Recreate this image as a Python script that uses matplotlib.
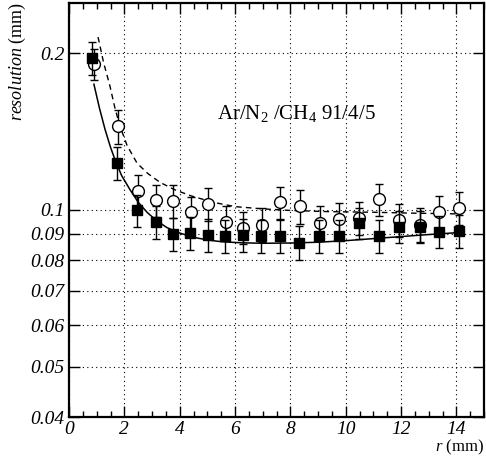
import matplotlib
matplotlib.use("Agg")
import matplotlib.pyplot as plt
from matplotlib.ticker import FixedLocator, NullLocator, MultipleLocator, FixedFormatter

plt.rcParams['font.family'] = ['Liberation Serif', 'DejaVu Serif']
plt.rcParams['mathtext.fontset'] = 'custom'
plt.rcParams['mathtext.rm'] = 'Liberation Serif'
plt.rcParams['mathtext.it'] = 'Liberation Serif:italic'

# data: squares (filled)
sq_r = [0.83, 1.73, 2.46, 3.14, 3.76, 4.37, 5.02, 5.64, 6.29, 6.94, 7.62, 8.30, 9.03, 9.76,
        10.48, 11.20, 11.93, 12.68, 13.37, 14.10]
sq_res = [0.196, 0.123, 0.0998, 0.095, 0.090, 0.0904, 0.0897, 0.0892, 0.0896, 0.089, 0.089, 0.0865,
          0.0893, 0.0893, 0.0946, 0.0893, 0.0929, 0.0929, 0.0909, 0.0912]
sq_err = [0.014, 0.009, 0.007, 0.007, 0.0065, 0.0065, 0.0065, 0.0065, 0.0065, 0.0065, 0.0065,
          0.0065, 0.0065, 0.0065, 0.0065, 0.0065, 0.0065, 0.0065, 0.0065, 0.0065]

# data: circles (open)
ci_r = [0.90, 1.77, 2.49, 3.14, 3.76, 4.41, 5.02, 5.67, 6.29, 6.97, 7.62, 8.35, 9.07, 9.76,
        10.48, 11.20, 11.93, 12.68, 13.37, 14.10]
ci_res = [0.191, 0.145, 0.109, 0.1044, 0.104, 0.0989, 0.1029, 0.095, 0.0925, 0.0937, 0.1034, 0.1016,
          0.0946, 0.0963, 0.0967, 0.1048, 0.0958, 0.0937, 0.0993, 0.101]
ci_err = [0.013, 0.011, 0.008, 0.0075, 0.0075, 0.007, 0.0075, 0.007, 0.0065, 0.007, 0.0075, 0.0075,
          0.007, 0.007, 0.007, 0.0075, 0.007, 0.007, 0.007, 0.0075]

# fit curves
fit_sq_r = [0.90, 1.10, 1.30, 1.50, 1.66, 1.90, 2.20, 2.50, 2.82, 3.15, 3.54, 4.0, 4.5, 5.0, 5.5,
            6.2, 7.0, 8.0, 9.0, 10.0, 11.0, 12.0, 13.0, 14.1]
fit_sq_res = [0.1745, 0.157, 0.143, 0.132, 0.125, 0.1165, 0.1095, 0.1035, 0.099, 0.0955, 0.0925,
              0.0903, 0.0886, 0.0876, 0.0869, 0.0865, 0.0863, 0.0864, 0.0867, 0.0873, 0.0881,
              0.0889, 0.0897, 0.0905]
fit_ci_r = [1.05, 1.25, 1.48, 1.66, 1.84, 2.10, 2.46, 2.85, 3.29, 3.80, 4.40, 5.2, 6.0, 7.0, 8.0,
            9.3, 11.0, 12.5, 14.0]
fit_ci_res = [0.215, 0.192, 0.173, 0.157, 0.145, 0.133, 0.123, 0.1175, 0.113, 0.1095, 0.1065,
              0.1035, 0.1015, 0.1005, 0.0998, 0.0993, 0.099, 0.0986, 0.0983]

ytick_vals = [0.04, 0.05, 0.06, 0.07, 0.08, 0.09, 0.1, 0.2]
ytick_labels = ['0.04', '0.05', '0.06', '0.07', '0.08', '0.09', '0.1', '0.2']
xtick_vals = [0, 2, 4, 6, 8, 10, 12, 14]

fig = plt.figure(figsize=(4.86, 4.59), dpi=100)
ax = fig.add_axes([0.142, 0.0915, 0.854, 0.902])
ax.set_yscale('log')
ax.set_xlim(0, 15)
ax.set_ylim(0.04, 0.25)

ax.plot(fit_sq_r, fit_sq_res, color='black', lw=1.1, zorder=3)
ax.plot(fit_ci_r, fit_ci_res, color='black', lw=1.0, ls=(0, (4, 3)), zorder=3)

ax.errorbar(ci_r, ci_res, yerr=ci_err, fmt='o', ms=8.5, mfc='white', mec='black', mew=1.0,
            ecolor='black', elinewidth=1.0, capsize=3, capthick=1.0, zorder=4)
ax.errorbar(sq_r, sq_res, yerr=sq_err, fmt='s', ms=7, mfc='black', mec='black',
            ecolor='black', elinewidth=1.0, capsize=3, capthick=1.0, zorder=5)

ax.yaxis.set_major_locator(FixedLocator(ytick_vals))
ax.yaxis.set_major_formatter(FixedFormatter(ytick_labels))
ax.yaxis.set_minor_locator(NullLocator())
ax.xaxis.set_major_locator(FixedLocator(xtick_vals))
ax.xaxis.set_minor_locator(MultipleLocator(0.5))

ax.grid(True, which='major', ls=(0, (1, 3)), color='black', lw=0.8)
ax.tick_params(which='both', direction='in', top=True, right=True, labelsize=14, width=1.0)
ax.tick_params(which='major', length=8)
ax.tick_params(which='minor', length=4)
ax.tick_params(axis='x', pad=3)
for lab in ax.get_xticklabels() + ax.get_yticklabels():
    lab.set_fontstyle('italic')
for s in ax.spines.values():
    s.set_linewidth(1.6)

ax.text(8.2, 0.153, r'Ar/N$_2$ /CH$_4$ 91/4/5', fontsize=15, ha='center', va='center')

fig.text(0.996, 0.004, r'$\mathit{r}$ (mm)', fontsize=12, ha='right', va='bottom')
fig.text(0.035, 0.995, r'$\mathit{resolution}$ (mm)', fontsize=13, rotation=90, ha='center', va='top')

fig.savefig('out.png', dpi=100)
